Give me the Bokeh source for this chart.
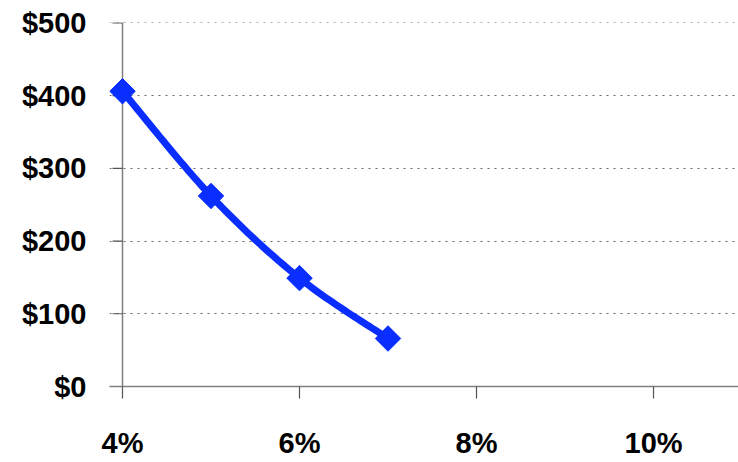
import numpy as np
from bokeh.plotting import figure
from bokeh.models import Range1d, FixedTicker, CustomJSTickFormatter, Span
from bokeh.embed import file_html
from bokeh.resources import INLINE

# Rate (percent) vs. value (dollars)
rates = [4, 5, 6, 7]
values = [406, 262, 149, 66]

x_ticks = [4, 6, 8, 10]
y_ticks = [0, 100, 200, 300, 400, 500]

FONT = "Liberation Sans"
BLUE = "#0A2EFF"
AXIS_GRAY = "#808080"
TICK_GRAY = "#555555"


def smooth(xs, ys, steps=30):
    """Bezier smoothing through points (control points at 1/6 of neighbour span)."""
    pts = np.column_stack([xs, ys]).astype(float)
    n = len(pts)
    out = [pts[0]]
    for i in range(n - 1):
        p0 = pts[i - 1] if i > 0 else pts[i]
        p1 = pts[i]
        p2 = pts[i + 1]
        p3 = pts[i + 2] if i + 2 < n else pts[i + 1]
        c1 = p1 + (p2 - p0) / 6.0
        c2 = p2 - (p3 - p1) / 6.0
        t = np.linspace(0, 1, steps)[1:, None]
        seg = ((1 - t) ** 3) * p1 + 3 * ((1 - t) ** 2) * t * c1 + 3 * (1 - t) * t ** 2 * c2 + t ** 3 * p2
        out.extend(seg)
    out = np.array(out)
    return out[:, 0], out[:, 1]


# the frame starts a little left of 4% so the first marker is not clipped;
# the value axis line itself sits at 4%
p = figure(width=738, height=462, output_backend="svg", toolbar_location=None,
           x_range=Range1d(3.853, 10.96), y_range=Range1d(0, 500.5),
           min_border_left=109, min_border_right=0, min_border_top=22, min_border_bottom=76)
p.outline_line_color = None
p.background_fill_color = "white"
p.border_fill_color = "white"

for ax in (p.xaxis[0], p.yaxis[0]):
    ax.minor_tick_line_color = None
    ax.major_label_text_font = FONT
    ax.major_label_text_font_style = "bold"
    ax.major_label_text_font_size = "29px"
    ax.major_label_text_color = "black"

# x axis
p.xaxis.ticker = FixedTicker(ticks=x_ticks)
p.xaxis.formatter = CustomJSTickFormatter(code="return tick + '%';")
p.xaxis.axis_line_color = AXIS_GRAY
p.xaxis.axis_line_width = 1.5
p.xaxis.major_tick_line_color = TICK_GRAY
p.xaxis.major_tick_line_width = 1.2
p.xaxis.major_tick_out = 12
p.xaxis.major_tick_in = 0
p.xaxis.major_label_standoff = 28

# y axis: labels only, rule and ticks drawn at 4%
p.yaxis.ticker = FixedTicker(ticks=y_ticks)
p.yaxis.formatter = CustomJSTickFormatter(code="return '$' + tick;")
p.yaxis.axis_line_color = None
p.yaxis.major_tick_line_color = None
p.yaxis.major_tick_out = 0
p.yaxis.major_tick_in = 0
p.yaxis.major_label_standoff = 23

p.xgrid.grid_line_color = None
p.ygrid.ticker = FixedTicker(ticks=y_ticks[1:])
p.ygrid.grid_line_color = "#666666"
p.ygrid.grid_line_dash = "2 5"
p.ygrid.grid_line_width = 1

p.add_layout(Span(location=x_ticks[0], dimension="height", line_color=AXIS_GRAY,
                  line_width=1.5, level="underlay"))
p.ray(x=[x_ticks[0]] * len(y_ticks), y=y_ticks, length=10, length_units="screen",
      angle=np.pi, line_color=TICK_GRAY, line_width=1.2)

sx, sy = smooth(rates, values)
p.line(sx, sy, line_color=BLUE, line_width=7, line_join="round", line_cap="round")
p.scatter(rates, values, marker="square", size=18, angle=np.pi / 4,
          fill_color=BLUE, line_color=BLUE)

open("out.html", "w").write(file_html(p, INLINE))
